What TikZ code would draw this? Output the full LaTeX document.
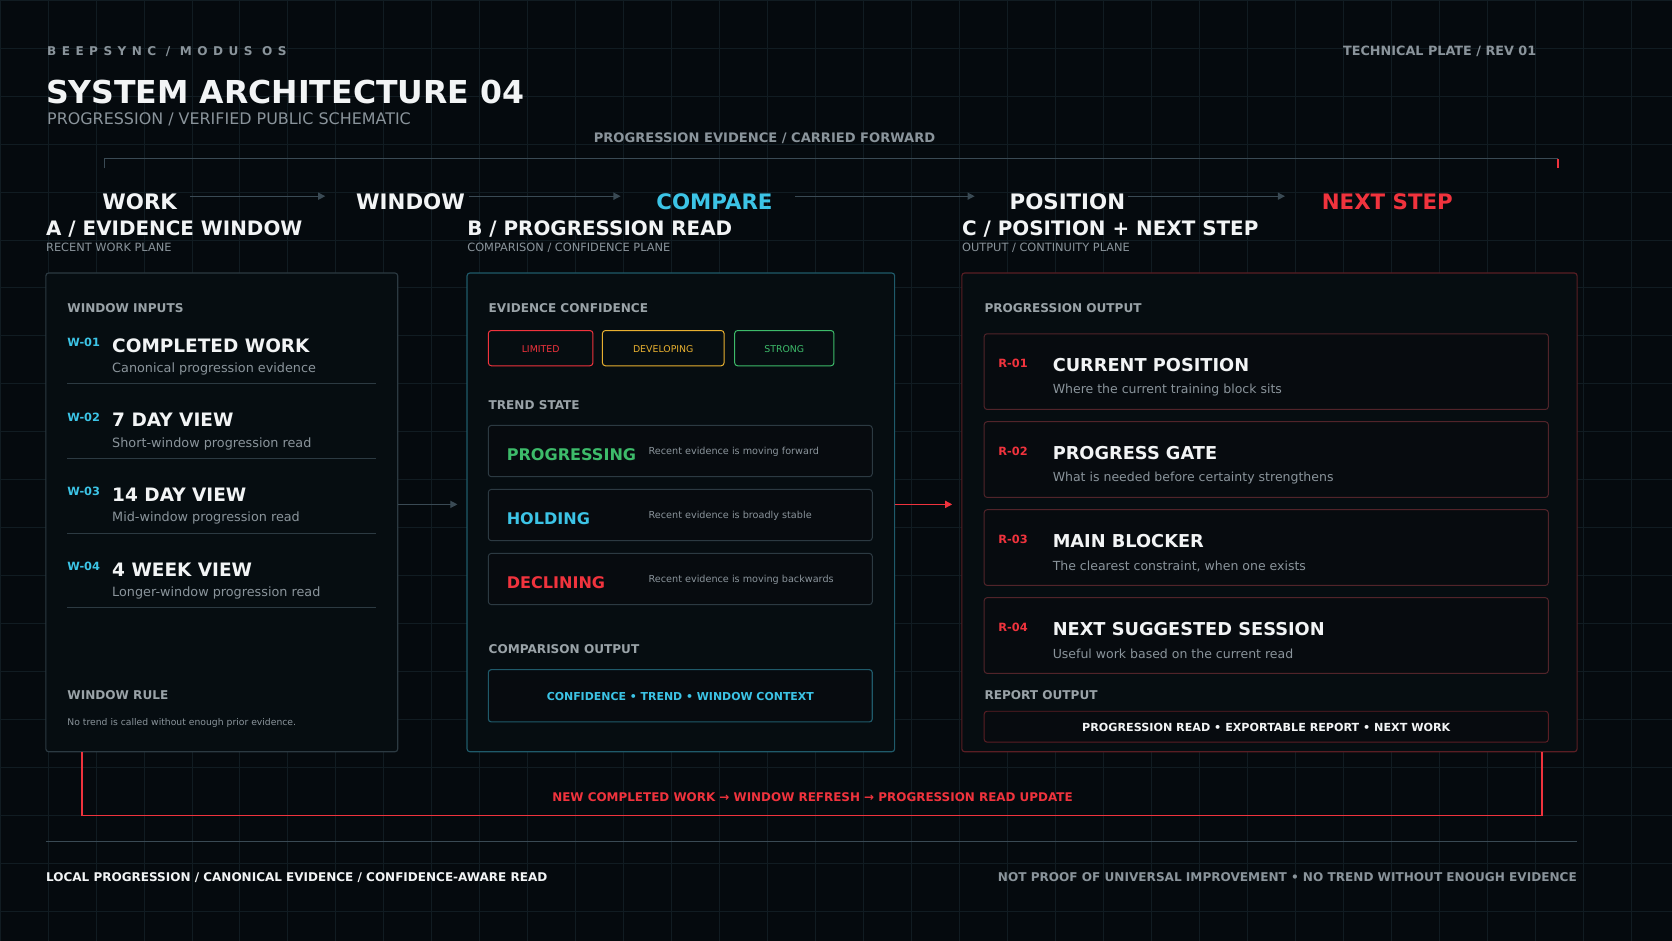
\documentclass[tikz,border=0pt]{standalone}
\usepackage{fontspec}
\setmainfont{DejaVu Sans}
\usetikzlibrary{arrows.meta}
\definecolor{bg}{HTML}{050A0E}
\definecolor{gridc}{HTML}{111C22}
\definecolor{boxfill}{HTML}{060D11}
\definecolor{rowfill}{HTML}{070B0F}
\definecolor{cyanc}{HTML}{3CC4E6}
\definecolor{redc}{HTML}{F0333D}
\definecolor{greenc}{HTML}{3DBB6A}
\definecolor{amberc}{HTML}{E8B030}
\definecolor{greyt}{HTML}{8A949B}
\definecolor{headg}{HTML}{9AA3A8}
\definecolor{lineg}{HTML}{3A4A54}
\definecolor{bordg}{HTML}{2C3A42}
\definecolor{teal}{HTML}{1F5A6A}
\definecolor{darkred}{HTML}{5A1E24}
\definecolor{whitet}{HTML}{F2F4F5}
\tikzset{
 x=0.75pt,y=-0.75pt,
 txt/.style={inner sep=0pt,anchor=west},
 stage/.style={inner sep=0pt,font=\fontsize{15}{18}\selectfont\bfseries},
 sec/.style={txt,font=\fontsize{14}{17}\selectfont\bfseries,text=whitet},
 sub/.style={txt,font=\fontsize{8}{10}\selectfont,text=greyt},
 lab/.style={txt,font=\fontsize{8.5}{10}\selectfont\bfseries,text=headg},
 panel/.style={draw,fill=boxfill,rounded corners=2pt,line width=0.8pt},
 row/.style={draw=bordg,fill=rowfill,rounded corners=2pt,line width=0.7pt},
 code/.style={txt,font=\fontsize{8}{10}\selectfont\bfseries},
 ititle/.style={txt,font=\fontsize{13}{15}\selectfont\bfseries,text=whitet},
 idesc/.style={txt,font=\fontsize{9}{11}\selectfont,text=greyt},
 flow/.style={draw=lineg,line width=0.8pt,-{Triangle[length=5pt,width=5pt]}},
}
\begin{document}
\begin{tikzpicture}
\fill[bg] (0,0) rectangle (1568,882);
\useasboundingbox (0,0) rectangle (1568,882);
\foreach \i in {0,45,...,1568} \draw[gridc,line width=0.6pt] (\i,0) -- (\i,882);
\foreach \j in {0,45,...,882} \draw[gridc,line width=0.6pt] (0,\j) -- (1568,\j);

% header
\node[txt,font=\fontsize{8.5}{10}\selectfont\bfseries\addfontfeature{LetterSpace=45},text=greyt] (brand) at (44,48) {BEEPSYNC / MODUS OS};
\node[inner sep=0pt,anchor=east,font=\fontsize{9}{10}\selectfont\bfseries,text=greyt] (plate) at (1441,48) {TECHNICAL PLATE / REV 01};
\node[txt,font=\fontsize{22.2}{25}\selectfont\bfseries,text=whitet] (title) at (43,86) {SYSTEM ARCHITECTURE 04};
\node[txt,font=\fontsize{11.2}{13}\selectfont,text=greyt] (subtitle) at (44,112) {PROGRESSION / VERIFIED PUBLIC SCHEMATIC};
\node[inner sep=0pt,font=\fontsize{9.2}{11}\selectfont\bfseries,text=greyt] (carry) at (717,130) {PROGRESSION EVIDENCE / CARRIED FORWARD};
\coordinate (bl) at (98,158); \coordinate (blt) at (98,149);
\coordinate (br) at (1461,158); \coordinate (brt) at (1461,149);
\draw[lineg,line width=0.8pt] (bl) -- (blt) -- (brt);
\draw[redc,line width=1pt] (brt) -- (br);

% stages
\node[stage,text=whitet] (sw) at (131,189) {WORK};
\node[stage,text=whitet] (swin) at (385,189) {WINDOW};
\node[stage,text=cyanc] (sc) at (670,189) {COMPARE};
\node[stage,text=whitet] (sp) at (1001,189) {POSITION};
\node[stage,text=redc] (sn) at (1301,189) {NEXT STEP};
\coordinate (a1s) at (178,184); \coordinate (a1e) at (305,184);
\coordinate (a2s) at (440,184); \coordinate (a2e) at (582,184);
\coordinate (a3s) at (746,184); \coordinate (a3e) at (914,184);
\coordinate (a4s) at (1058,184); \coordinate (a4e) at (1205,184);
\draw[flow] (a1s) -- (a1e); \draw[flow] (a2s) -- (a2e);
\draw[flow] (a3s) -- (a3e); \draw[flow] (a4s) -- (a4e);

% section headings
\node[sec] (ha) at (43,215) {A / EVIDENCE WINDOW};
\node[sub] (sa) at (43,232) {RECENT WORK PLANE};
\node[sec] (hb) at (438,215) {B / PROGRESSION READ};
\node[sub] (sb) at (438,232) {COMPARISON / CONFIDENCE PLANE};
\node[sec] (hc) at (902,215) {C / POSITION + NEXT STEP};
\node[sub] (sc2) at (902,232) {OUTPUT / CONTINUITY PLANE};

% panels
\draw[panel,draw=bordg] (43,256) rectangle (373,705);
\draw[panel,draw=teal] (438,256) rectangle (839,705);
\draw[panel,draw=darkred] (902,256) rectangle (1479,705);
\coordinate (pa) at (373,473); \coordinate (pb) at (429,473);
\coordinate (pb2) at (839,473); \coordinate (pc) at (893,473);
\draw[flow] (pa) -- (pb);
\draw[redc,line width=1pt,-{Triangle[length=5pt,width=5pt]}] (pb2) -- (pc);

% panel A
\node[lab] (wi) at (63,289) {WINDOW INPUTS};
\foreach \k/\c/\t/\d [count=\n from 0] in {W-01/COMPLETED WORK/Canonical progression evidence/1, W-02/7 DAY VIEW/Short-window progression read/2, W-03/14 DAY VIEW/Mid-window progression read/3, W-04/4 WEEK VIEW/Longer-window progression read/4}{
 \node[code,text=cyanc] (wc\d) at (63,{321+70*\n}) {\k};
 \node[ititle] (wt\d) at (105,{324+70*\n}) {\c};
 \node[idesc] (wd\d) at (105,{346+70*\n}) {\t};
 \draw[bordg,line width=0.8pt] (63,{360+70*\n}) -- (353,{360+70*\n});
}
\node[lab] (wr) at (63,652) {WINDOW RULE};
\node[txt,font=\fontsize{6.5}{8}\selectfont,text=greyt] (wrt) at (63,678) {No trend is called without enough prior evidence.};

% panel B
\node[lab] (ec) at (458,289) {EVIDENCE CONFIDENCE};
\draw[redc,rounded corners=2pt,line width=0.7pt] (458,310) rectangle (556,343);
\draw[amberc,rounded corners=2pt,line width=0.7pt] (565,310) rectangle (679,343);
\draw[greenc,rounded corners=2pt,line width=0.7pt] (689,310) rectangle (782,343);
\node[inner sep=0pt,font=\fontsize{6.6}{8}\selectfont,text=redc] (lim) at (507,327) {LIMITED};
\node[inner sep=0pt,font=\fontsize{6.6}{8}\selectfont,text=amberc] (dev) at (622,327) {DEVELOPING};
\node[inner sep=0pt,font=\fontsize{6.6}{8}\selectfont,text=greenc] (str) at (735.5,327) {STRONG};
\node[lab] (ts) at (458,380) {TREND STATE};
\foreach \l/\col/\d [count=\n from 0] in {PROGRESSING/greenc/Recent evidence is moving forward, HOLDING/cyanc/Recent evidence is broadly stable, DECLINING/redc/Recent evidence is moving backwards}{
 \draw[row] (458,{399+60*\n}) rectangle (818,{447+60*\n});
 \node[txt,font=\fontsize{11.3}{13}\selectfont\bfseries,text=\col] (tl\n) at (475,{426+60*\n}) {\l};
 \node[txt,font=\fontsize{6.8}{8}\selectfont,text=greyt] (td\n) at (608,{424+60*\n}) {\d};
}
\node[lab] (co) at (458,609) {COMPARISON OUTPUT};
\draw[draw=teal,fill=rowfill,rounded corners=2pt,line width=0.8pt] (458,628) rectangle (818,677);
\node[inner sep=0pt,font=\fontsize{7.7}{9}\selectfont\bfseries,text=cyanc] (cot) at (638,653) {CONFIDENCE • TREND • WINDOW CONTEXT};

% panel C
\node[lab] (po) at (923,289) {PROGRESSION OUTPUT};
\foreach \k/\c/\t [count=\n from 0] in {R-01/CURRENT POSITION/Where the current training block sits, R-02/PROGRESS GATE/What is needed before certainty strengthens, R-03/MAIN BLOCKER/{The clearest constraint, when one exists}, R-04/NEXT SUGGESTED SESSION/Useful work based on the current read}{
 \draw[draw=darkred!80!bordg,fill=rowfill,rounded corners=2pt,line width=0.7pt] (923,{313+82.5*\n}) rectangle (1452,{384+82.5*\n});
 \node[code,text=redc] (rc\n) at (936,{341+82.5*\n}) {\k};
 \node[txt,font=\fontsize{12.5}{15}\selectfont\bfseries,text=whitet] (rt\n) at (987,{342+82.5*\n}) {\c};
 \node[txt,font=\fontsize{8.8}{10}\selectfont,text=greyt] (rd\n) at (987,{366+82.5*\n}) {\t};
}
\node[lab] (ro) at (923,652) {REPORT OUTPUT};
\draw[draw=darkred,fill=rowfill,rounded corners=2pt,line width=0.7pt] (923,667) rectangle (1452,696);
\node[inner sep=0pt,font=\fontsize{7.85}{9}\selectfont\bfseries,text=whitet] (rot) at (1187.5,682) {PROGRESSION READ • EXPORTABLE REPORT • NEXT WORK};

% loop
\coordinate (l1) at (77,705); \coordinate (l2) at (77,765);
\coordinate (l3) at (1446,765); \coordinate (l4) at (1446,705);
\draw[redc,line width=1pt] (l1) -- (l2) -- (l3) -- (l4);
\node[inner sep=0pt,font=\fontsize{8.4}{10}\selectfont\bfseries,text=redc] (loopt) at (762,748) {NEW COMPLETED WORK → WINDOW REFRESH → PROGRESSION READ UPDATE};

% footer
\coordinate (f1) at (43,789); \coordinate (f2) at (1479,789);
\draw[lineg,line width=0.7pt] (f1) -- (f2);
\node[txt,font=\fontsize{8.45}{10}\selectfont\bfseries,text=whitet] (fl) at (43,823) {LOCAL PROGRESSION / CANONICAL EVIDENCE / CONFIDENCE-AWARE READ};
\node[inner sep=0pt,anchor=east,font=\fontsize{8.5}{10}\selectfont\bfseries,text=greyt] (fr) at (1479,823) {NOT PROOF OF UNIVERSAL IMPROVEMENT • NO TREND WITHOUT ENOUGH EVIDENCE};
\end{tikzpicture}
\end{document}
